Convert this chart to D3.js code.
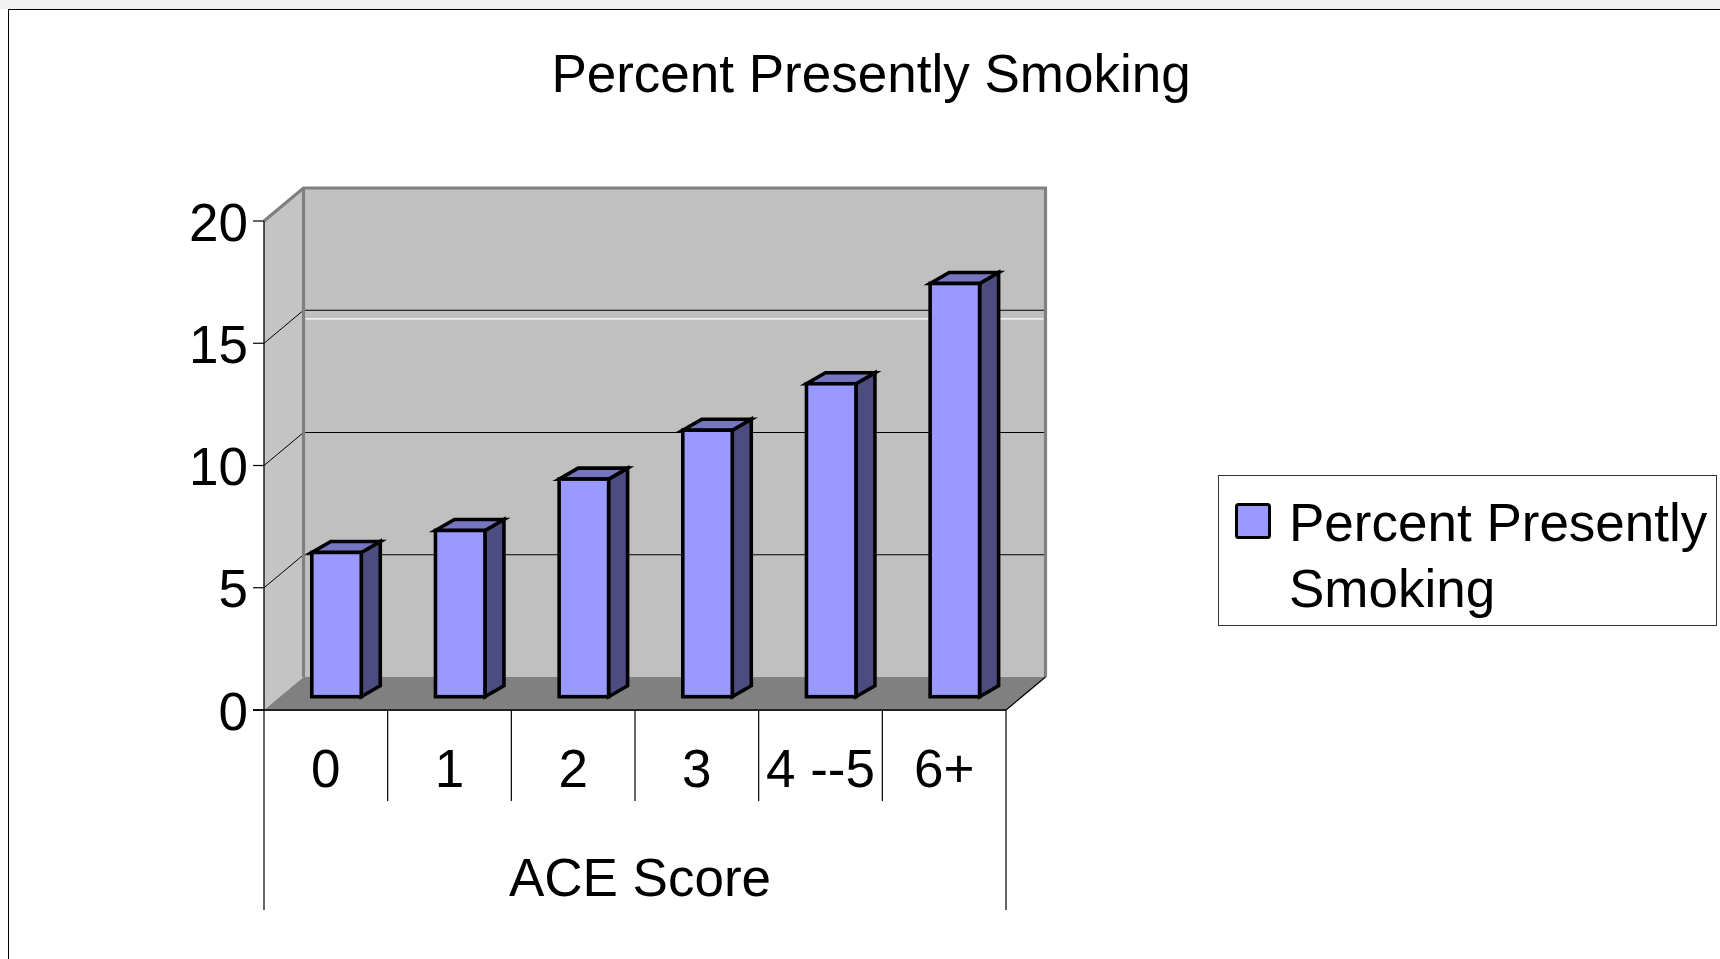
<!DOCTYPE html>
<html>
<head>
<meta charset="utf-8">
<script src="https://cdn.jsdelivr.net/npm/d3@7"></script>
<style>
  html, body { margin: 0; padding: 0; background: #ffffff; }
  svg { display: block; font-family: "Liberation Sans", Arial, sans-serif; }
</style>
</head>
<body>
<svg id="chart" width="1720" height="959"></svg>
<script>
// ---- data ----
const categories = ["0", "1", "2", "3", "4 --5", "6+"];
const values = [5.9, 6.8, 8.9, 10.9, 12.8, 16.9];
const yTicks = [0, 5, 10, 15, 20];
const seriesName = "Percent Presently Smoking";
const legendLines = ["Percent Presently", "Smoking"];
const xTitle = "ACE Score";

// ---- layout ----
const W = 1720, H = 959;
const front = { left: 264, right: 1006, top: 221, bottom: 710 };
const depth = { dx: 39.5, dy: -33 };
const barShift = { dx: 10.7, dy: -13.3 };
const barDepth = { dx: 19, dy: -11 };

const svg = d3.select("#chart");

// page background + outer frame
svg.append("rect").attr("x", 0).attr("y", 0).attr("width", W).attr("height", 9).attr("fill", "#f1f1f1");
svg.append("rect").attr("x", 8.5).attr("y", 9.5).attr("width", W + 20).attr("height", H + 20)
  .attr("fill", "#ffffff").attr("stroke", "#000000").attr("stroke-width", 1);

const y = d3.scaleLinear().domain([0, 20]).range([front.bottom, front.top]);
const xCat = d3.scaleBand().domain(categories).range([front.left, front.right]).padding(0);
const xBar = d3.scaleBand().domain(categories).range([front.left, front.right])
  .paddingInner(0.6).paddingOuter(0.3);

const poly = pts => "M" + pts.map(p => p.join(",")).join("L") + "Z";
const bx = v => v + depth.dx;   // back-plane shift
const by = v => v + depth.dy;

// back wall
svg.append("path")
  .attr("d", poly([[bx(front.left), by(front.top)], [bx(front.right), by(front.top)],
                   [bx(front.right), by(front.bottom)], [bx(front.left), by(front.bottom)]]))
  .attr("fill", "#c0c0c0");
// side wall
svg.append("path")
  .attr("d", poly([[front.left, front.top], [bx(front.left), by(front.top)],
                   [bx(front.left), by(front.bottom)], [front.left, front.bottom]]))
  .attr("fill", "#c4c4c4");
// floor
svg.append("path")
  .attr("d", poly([[front.left, front.bottom], [front.right, front.bottom],
                   [bx(front.right), by(front.bottom)], [bx(front.left), by(front.bottom)]]))
  .attr("fill", "#808080");

// gridlines (back wall + side wall)
const grid = svg.append("g");
yTicks.filter(t => t > 0 && t < 20).forEach(t => {
  grid.append("line")
    .attr("x1", bx(front.left)).attr("x2", bx(front.right))
    .attr("y1", by(y(t))).attr("y2", by(y(t)))
    .attr("stroke", "#000000").attr("stroke-width", 1.2);
  grid.append("line")
    .attr("x1", front.left).attr("y1", y(t))
    .attr("x2", bx(front.left)).attr("y2", by(y(t)))
    .attr("stroke", "#000000").attr("stroke-width", 1);
});
// thin white line just below the 15 gridline (as in the picture)
grid.append("line")
  .attr("x1", bx(front.left) + 2).attr("x2", bx(front.right) - 2)
  .attr("y1", by(y(14.65))).attr("y2", by(y(14.65)))
  .attr("stroke", "#ffffff").attr("stroke-width", 1.2);

// wall borders
const wallStroke = "#808080";
svg.append("path")
  .attr("d", `M${front.left},${front.top}L${bx(front.left)},${by(front.top)}L${bx(front.right)},${by(front.top)}L${bx(front.right)},${by(front.bottom)}`)
  .attr("fill", "none").attr("stroke", wallStroke).attr("stroke-width", 3.2).attr("stroke-linejoin", "miter");
svg.append("line")
  .attr("x1", bx(front.left)).attr("y1", by(front.top))
  .attr("x2", bx(front.left)).attr("y2", by(front.bottom))
  .attr("stroke", wallStroke).attr("stroke-width", 3.2);

// bars
const barsG = svg.append("g");
categories.forEach((c, i) => {
  const v = values[i];
  const x0 = xBar(c) + barShift.dx;
  const w = xBar.bandwidth();
  const top = y(v) + barShift.dy;
  const bot = y(0) + barShift.dy;
  const g = barsG.append("g")
    .attr("stroke", "#000000").attr("stroke-width", 3.6).attr("stroke-linejoin", "miter");
  g.append("path")
    .attr("d", poly([[x0 + w, top], [x0 + w + barDepth.dx, top + barDepth.dy],
                     [x0 + w + barDepth.dx, bot + barDepth.dy], [x0 + w, bot]]))
    .attr("fill", "#4c4c80");
  g.append("path")
    .attr("d", poly([[x0, top], [x0 + w, top], [x0 + w + barDepth.dx, top + barDepth.dy],
                     [x0 + barDepth.dx, top + barDepth.dy]]))
    .attr("fill", "#7676c0");
  g.append("rect")
    .attr("x", x0).attr("y", top).attr("width", w).attr("height", bot - top)
    .attr("fill", "#9999ff");
});

// floor right diagonal & front edge
svg.append("line")
  .attr("x1", front.right).attr("y1", front.bottom)
  .attr("x2", bx(front.right)).attr("y2", by(front.bottom))
  .attr("stroke", "#000000").attr("stroke-width", 1.2);
svg.append("line")
  .attr("x1", front.left - 11).attr("x2", front.right)
  .attr("y1", front.bottom).attr("y2", front.bottom)
  .attr("stroke", "#222222").attr("stroke-width", 2);

// y axis
const yAxis = svg.append("g");
yAxis.append("line")
  .attr("x1", front.left).attr("x2", front.left)
  .attr("y1", front.top).attr("y2", front.bottom)
  .attr("stroke", "#000000").attr("stroke-width", 1.3);
yTicks.forEach(t => {
  yAxis.append("line")
    .attr("x1", front.left - 11).attr("x2", front.left)
    .attr("y1", y(t)).attr("y2", y(t))
    .attr("stroke", "#000000").attr("stroke-width", 1.2);
  yAxis.append("text")
    .attr("x", 248).attr("y", y(t)).attr("dy", "0.37em")
    .attr("text-anchor", "end").attr("font-size", 53).attr("fill", "#000")
    .text(t);
});

// category dividers & labels
const xAx = svg.append("g");
const bounds = categories.map(c => xCat(c)).concat([front.right]);
bounds.forEach((b, i) => {
  const outer = (i === 0 || i === bounds.length - 1);
  xAx.append("line")
    .attr("x1", b).attr("x2", b)
    .attr("y1", front.bottom).attr("y2", outer ? 910 : 801)
    .attr("stroke", "#000000").attr("stroke-width", 1.2);
});
categories.forEach(c => {
  xAx.append("text")
    .attr("x", xCat(c) + xCat.bandwidth() / 2).attr("y", 787)
    .attr("text-anchor", "middle").attr("font-size", 53).attr("fill", "#000")
    .text(c);
});
xAx.append("text")
  .attr("x", 640).attr("y", 896)
  .attr("text-anchor", "middle").attr("font-size", 53).attr("fill", "#000")
  .text(xTitle);

// title
svg.append("text")
  .attr("x", 871).attr("y", 92)
  .attr("text-anchor", "middle").attr("font-size", 53).attr("fill", "#000")
  .text(seriesName);

// legend
const lg = svg.append("g");
lg.append("rect")
  .attr("x", 1218.5).attr("y", 475.5).attr("width", 498).attr("height", 150)
  .attr("fill", "#ffffff").attr("stroke", "#333333").attr("stroke-width", 1);
lg.append("rect")
  .attr("x", 1236.5).attr("y", 504.5).attr("width", 33).attr("height", 33)
  .attr("rx", 2).attr("fill", "#9999ff").attr("stroke", "#000000").attr("stroke-width", 3);
lg.selectAll("text.l").data(legendLines).enter().append("text")
  .attr("x", 1289).attr("y", (d, i) => 541 + i * 66)
  .attr("font-size", 53).attr("fill", "#000")
  .text(d => d);
</script>
</body>
</html>
